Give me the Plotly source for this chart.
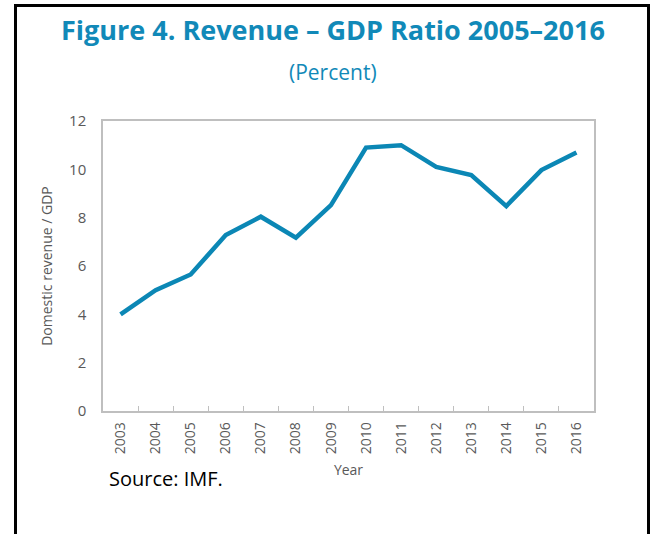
import plotly.graph_objects as go

# Domestic revenue as a share of GDP, by year
years = ["2003", "2004", "2005", "2006", "2007", "2008", "2009",
         "2010", "2011", "2012", "2013", "2014", "2015", "2016"]
revenue_gdp = [4.0, 5.0, 5.65, 7.28, 8.04, 7.17, 8.52,
               10.9, 11.0, 10.1, 9.76, 8.48, 9.97, 10.7]
y_ticks = [0, 2, 4, 6, 8, 10, 12]

BLUE = "#0B87B5"
GRAY = "#BFBFBF"
LABEL = "#595959"

fig = go.Figure()
fig.add_trace(go.Scatter(
    x=years, y=revenue_gdp, mode="lines",
    line=dict(color=BLUE, width=4.5),
    hoverinfo="x+y",
))

W, H = 656, 534
L, R, T, B = 103, 62, 121, 123
pw, ph = W - L - R, H - T - B


def px(x):
    return (x - L) / pw


def py(y):
    return (H - B - y) / ph


fig.update_layout(
    width=W, height=H,
    margin=dict(l=L, r=R, t=T, b=B),
    paper_bgcolor="white", plot_bgcolor="white",
    showlegend=False,
    font=dict(family="Open Sans, sans-serif", color=LABEL),
    xaxis=dict(
        type="category", range=[-0.5, len(years) - 0.5],
        showgrid=False, showline=True, linecolor=GRAY,
        linewidth=1.5, mirror=True, ticks="inside", tickson="boundaries",
        ticklen=5, tickcolor=GRAY, tickangle=-90,
        tickfont=dict(size=14, color=LABEL), ticklabelstandoff=4,
        title=dict(text="Year", font=dict(size=14, color=LABEL), standoff=12),
    ),
    yaxis=dict(
        range=[0, 12], tickvals=y_ticks, showgrid=False, showline=True,
        linecolor=GRAY, linewidth=1.5, mirror=True, ticks="",
        tickfont=dict(size=15, color=LABEL), zeroline=False,
        ticklabelstandoff=12,
        title=dict(text="Domestic revenue / GDP",
                   font=dict(size=14, color=LABEL), standoff=13),
    ),
    shapes=[dict(
        type="rect", xref="paper", yref="paper",
        x0=px(15.5), x1=px(648.5), y0=py(545), y1=py(5.5),
        line=dict(color="black", width=3), fillcolor="rgba(0,0,0,0)",
        layer="below",
    )],
    annotations=[
        dict(text="<b>Figure 4. Revenue \u2013 GDP Ratio 2005\u20132016</b>",
             xref="paper", yref="paper", x=px(333), y=py(30),
             xanchor="center", yanchor="middle", showarrow=False,
             font=dict(size=27, color="#1189B8",
                       family="Open Sans, sans-serif")),
        dict(text="(Percent)",
             xref="paper", yref="paper", x=px(333), y=py(72),
             xanchor="center", yanchor="middle", showarrow=False,
             font=dict(size=21, color="#1189B8",
                       family="Open Sans, sans-serif")),
        dict(text="Source: IMF.",
             xref="paper", yref="paper", x=px(107), y=py(478),
             xanchor="left", yanchor="middle", showarrow=False,
             font=dict(size=20, color="black",
                       family="Open Sans, sans-serif")),
    ],
)

fig.write_html("out.html")
